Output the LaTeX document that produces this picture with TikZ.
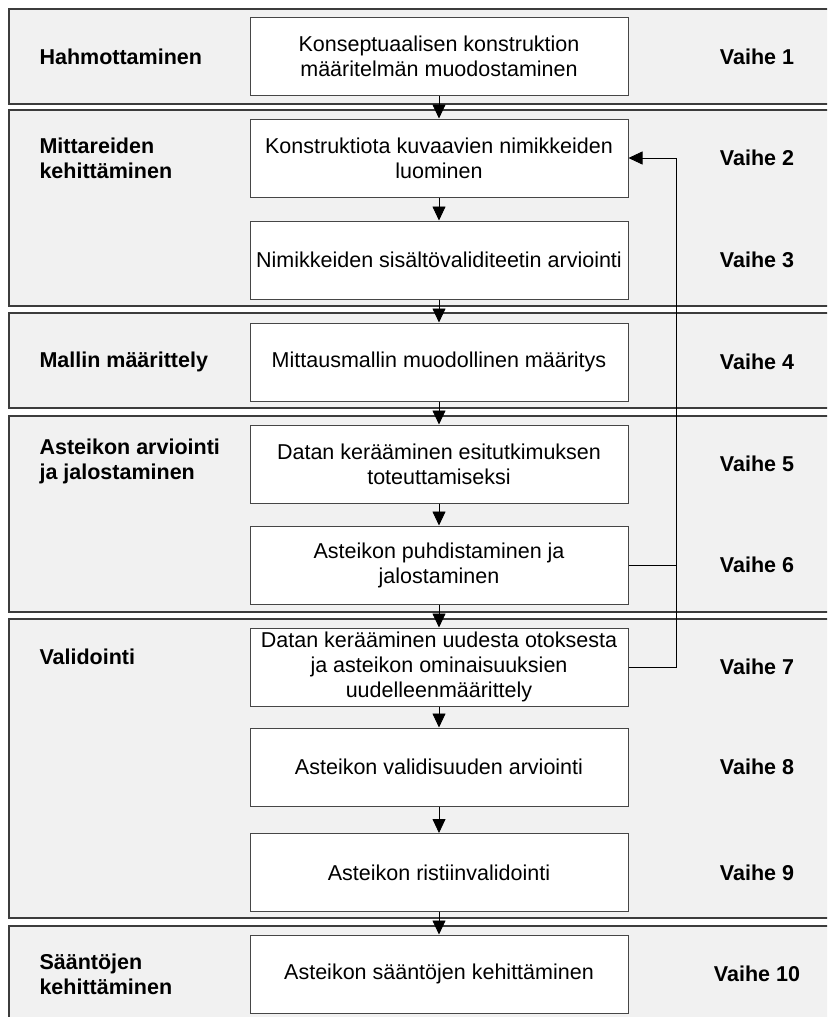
\documentclass[tikz,border=0pt]{standalone}
\usepackage{fontspec}
\setmainfont{Liberation Sans}
\usetikzlibrary{arrows.meta}
\definecolor{bandgray}{RGB}{241,241,241}
\definecolor{bandline}{RGB}{60,60,60}
\definecolor{boxline}{RGB}{70,70,70}

\begin{document}
\begin{tikzpicture}[x=1pt, y=-1pt,
	band/.style={draw=bandline, fill=bandgray, line width=1.6pt},
	stepbox/.style={draw=boxline, fill=white, line width=1pt, minimum width=378pt, minimum height=78pt, inner sep=0pt, align=center, font=\fontsize{21.5}{25}\selectfont},
	phase/.style={anchor=west, align=left, font=\fontsize{21.5}{25}\selectfont\bfseries},
	stage/.style={font=\fontsize{21.5}{25}\selectfont\bfseries},
	flow/.style={-{Triangle[length=14pt, width=13pt]}, line width=0.8pt}]
			\useasboundingbox (0,0) rectangle (827,1017);
			\clip (0,0) rectangle (827,1017);
			
			\draw[band] (9,9) rectangle (840,104);
			\draw[band] (9,110) rectangle (840,306);
			\draw[band] (9,313) rectangle (840,408);
			\draw[band] (9,416) rectangle (840,612);
			\draw[band] (9,619) rectangle (840,918);
			\draw[band] (9,926) rectangle (840,1040);
			
			\node[stepbox] (k1) at (439,56.5) {Konseptuaalisen konstruktion\\määritelmän muodostaminen};
			\node[stepbox] (k2) at (439,158) {Konstruktiota kuvaavien nimikkeiden\\luominen};
			\node[stepbox] (k3) at (439,260) {Nimikkeiden sisältövaliditeetin arviointi};
			\node[stepbox] (k4) at (439,362) {Mittausmallin muodollinen määritys};
			\node[stepbox] (k5) at (439,464) {Datan kerääminen esitutkimuksen\\toteuttamiseksi};
			\node[stepbox] (k6) at (439,565) {Asteikon puhdistaminen ja\\jalostaminen};
			\node[stepbox] (k7) at (439,667) {Datan kerääminen uudesta otoksesta\\ja asteikon ominaisuuksien\\uudelleenmäärittely};
			\node[stepbox] (k8) at (439,767) {Asteikon validisuuden arviointi};
			\node[stepbox] (k9) at (439,872.5) {Asteikon ristiinvalidointi};
			\node[stepbox] (k10) at (439,974) {Asteikon sääntöjen kehittäminen};
			
			\node[phase] (p1) at (36,56.5) {Hahmottaminen};
			\node[phase] (p2) at (36,158) {Mittareiden\\kehittäminen};
			\node[phase] (p3) at (36,362) {Mallin määrittely};
			\node[phase] (p4) at (36,461) {Asteikon arviointi\\ja jalostaminen};
			\node[phase] (p5) at (36,657) {Validointi};
			\node[phase] (p6) at (36,974) {Sääntöjen\\kehittäminen};
			
			\foreach \n/\y in {1/56.5, 2/158, 3/260, 4/362, 5/464, 6/565, 7/667, 8/767, 9/872.5, 10/974}
				\node[stage] (v\n) at (757,\y) {Vaihe \n};
			
			\foreach \a/\b in {k1/k2, k2/k3, k3/k4, k4/k5, k5/k6, k6/k7, k7/k8, k8/k9, k9/k10}
				\draw[flow] (\a) -- (\b);
			
			\coordinate (fb) at (676,0);
			\draw[flow] (k7.east) -- (k7.east -| fb) -- (k2.east -| fb) -- (k2.east);
			\draw[line width=0.8pt] (k6.east) -- (k6.east -| fb);
		\end{tikzpicture}
\end{document}
